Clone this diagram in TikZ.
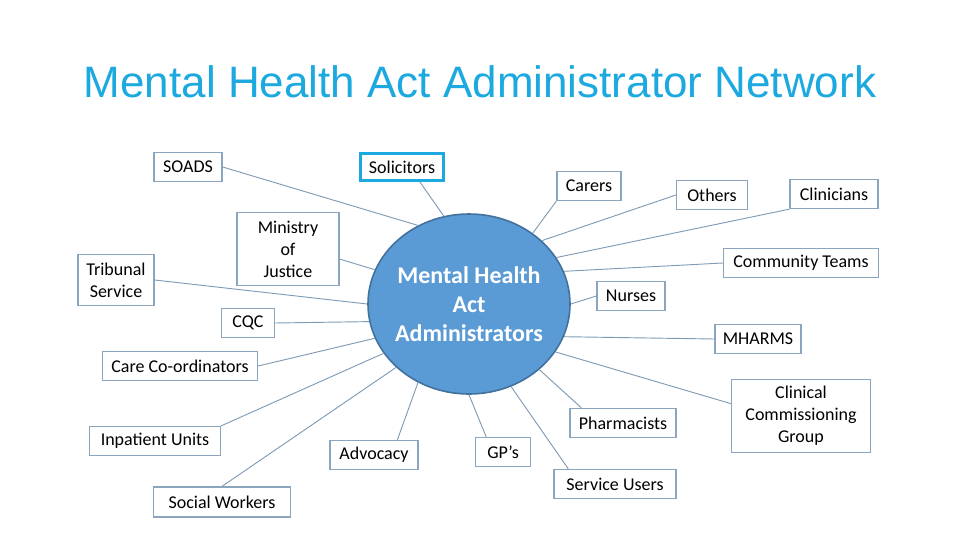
\documentclass[tikz,border=0pt]{standalone}
\usepackage{fontspec}
\setmainfont{Carlito}
\newfontfamily\titlefont{Liberation Sans}
\usetikzlibrary{shapes.geometric}

\newcommand\pxu{0.75pt}
\definecolor{titleblue}{HTML}{1CA9DF}
\definecolor{hubfill}{HTML}{5B9BD5}
\definecolor{hubline}{HTML}{41719C}
\definecolor{boxline}{HTML}{8BA5BF}
\definecolor{linkline}{HTML}{7F9BB5}

\begin{document}
\begin{tikzpicture}[x=0.75pt, y=-0.75pt,
    box/.style={draw=boxline, line width=1pt, minimum height=29*\pxu, inner sep=1pt,
        align=center, font=\fontsize{13.5}{16.5}\selectfont},
    hub/.style={ellipse, draw=hubline, fill=hubfill, line width=1.2pt,
        minimum width=202*\pxu, minimum height=180*\pxu, inner sep=0pt},
    hubtext/.style={text=white, align=center, font=\bfseries\fontsize{18}{21.8}\selectfont},
    link/.style={draw=linkline, line width=0.7pt}]
    \useasboundingbox (0,0) rectangle (960,540);

    % title
    \node[anchor=base, text=titleblue, font=\titlefont\fontsize{33}{38}\selectfont] (title) at (480,97) {Mental Health Act Administrator Network};

    % the hub
    \node[hub, label={[hubtext]center:Mental Health\\Act\\Administrators}] (mha) at (469,304) {};

    % left side
    \node[box, minimum width=68*\pxu] (soads) at (188,167) {SOADS};
    \node[box, draw=titleblue, line width=2.2pt, minimum width=83*\pxu, minimum height=27*\pxu] (sol) at (402,167) {Solicitors};
    \node[box, minimum width=102*\pxu, minimum height=73*\pxu] (moj) at (288,249) {Ministry\\of\\Justice};
    \node[box, minimum width=76*\pxu, minimum height=51*\pxu] (trib) at (116,280) {Tribunal\\Service};
    \node[box, minimum width=53*\pxu] (cqc) at (248,323) {CQC};
    \node[box, minimum width=155*\pxu] (care) at (180,366) {Care Co-ordinators};
    \node[box, minimum width=131*\pxu] (inpat) at (155,441) {Inpatient Units};
    \node[box, minimum width=137*\pxu, minimum height=30*\pxu] (social) at (222,502) {Social Workers};

    % bottom
    \node[box, minimum width=88*\pxu] (advoc) at (374,455) {Advocacy};
    \node[box, minimum width=55*\pxu] (gp) at (503,452) {GP’s};
    \node[box, minimum width=122*\pxu] (users) at (615,484) {Service Users};
    \node[box, minimum width=106*\pxu] (pharm) at (623,423) {Pharmacists};

    % right side
    \node[box, minimum width=139*\pxu, minimum height=73*\pxu] (ccg) at (801,416) {Clinical\\Commissioning\\Group};
    \node[box, minimum width=86*\pxu] (mharms) at (758,339) {MHARMS};
    \node[box, minimum width=68*\pxu] (nurses) at (631,296) {Nurses};
    \node[box, minimum width=155*\pxu] (comm) at (801,263) {Community Teams};
    \node[box, minimum width=88*\pxu] (clin) at (834,194) {Clinicians};
    \node[box, minimum width=71*\pxu] (others) at (712,195) {Others};
    \node[box, minimum width=64*\pxu] (carers) at (589,186) {Carers};

    % spokes
    \draw[link] (soads.east) -- (mha.123);
    \draw[link] (sol.-40) -- (mha.106);
    \draw[link] (moj.-11) -- (mha.160);
    \draw[link] (trib.east) -- (mha.180);
    \draw[link] (cqc.east) -- (mha.190);
    \draw[link] (care.east) -- (mha.200);
    \draw[link] (inpat.north east) -- (mha.210);
    \draw[link] (social.north) -- (mha.221);
    \draw[link] (advoc.33) -- (mha.237);
    \draw[link] (gp.138) -- (mha.270);
    \draw[link] (users.162) -- (mha.297);
    \draw[link] (pharm.160) -- (mha.317);
    \draw[link] (ccg.170) -- (mha.331);
    \draw[link] (mharms.west) -- (mha.341);
    \draw[link] (nurses.west) -- (mha.0);
    \draw[link] (comm.west) -- (mha.19);
    \draw[link] (clin.south west) -- (mha.28);
    \draw[link] (others.west) -- (mha.41);
    \draw[link] (carers.south west) -- (mha.48);
\end{tikzpicture}
\end{document}
